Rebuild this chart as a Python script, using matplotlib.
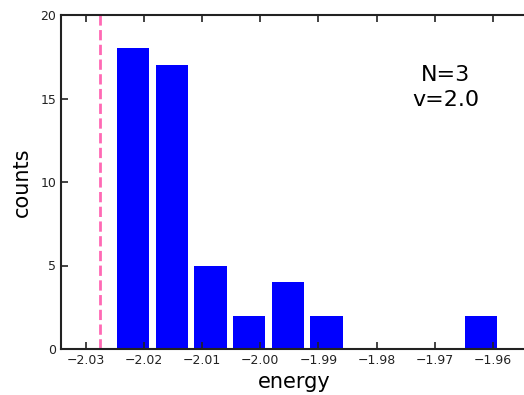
import numpy as np
import matplotlib
matplotlib.use("Agg")
import matplotlib.pyplot as plt

# histogram: 10 bins, counts per bin
bin_lo = -2.0252
bin_hi = -1.9587
counts = [18, 17, 5, 2, 4, 2, 0, 0, 0, 2]
ref_energy = -2.0276
xticks = [-2.03, -2.02, -2.01, -2.00, -1.99, -1.98, -1.97, -1.96]
label_text = "N=3\nv=2.0"

edges = np.linspace(bin_lo, bin_hi, len(counts) + 1)
centers = 0.5 * (edges[:-1] + edges[1:])

fig = plt.figure(figsize=(5.24, 3.95), dpi=100)
# axes runs a bit past the right edge of the figure (right spine cut off)
ax = fig.add_axes([61 / 524, 1 - 349 / 395, 466 / 524, 334 / 395])

ax.hist(centers, bins=edges, weights=counts, rwidth=0.84, color="blue",
        edgecolor="none")
ax.axvline(ref_energy, color="#ff69b4", linestyle="--", linewidth=2.0)

ax.set_xlim(-2.0343, -1.9541)
ax.set_ylim(0, 20)
ax.set_xticks(xticks)
ax.set_xticklabels(["\u2212%.2f" % abs(t) for t in xticks])
ax.set_yticks([0, 5, 10, 15, 20])
ax.tick_params(direction="in", top=True, right=False, labelsize=9,
               length=5, width=1.2, colors="#222222")
for sp in ax.spines.values():
    sp.set_linewidth(1.5)
    sp.set_color("#222222")
ax.spines["right"].set_visible(False)

ax.set_xlabel("energy", fontsize=15, labelpad=4)
ax.set_ylabel("counts", fontsize=15, labelpad=6)
ax.text(0.825, 0.783, label_text, transform=ax.transAxes, fontsize=16,
        ha="center", va="center", linespacing=1.35)

fig.savefig("out.png", dpi=100)
